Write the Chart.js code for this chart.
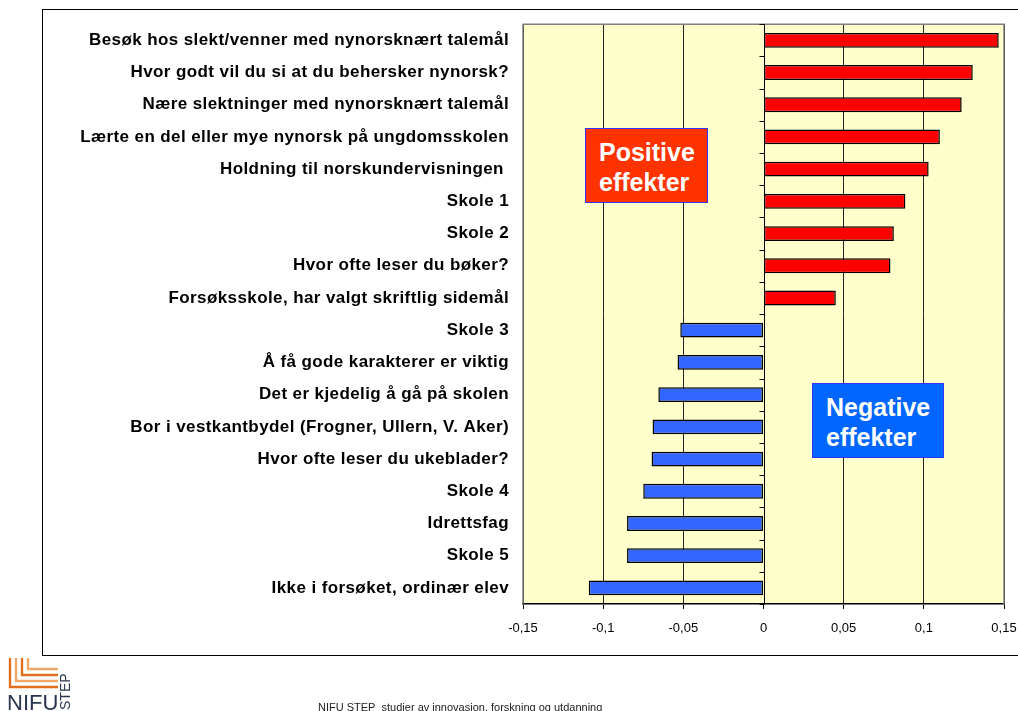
<!DOCTYPE html>
<html>
<head>
<meta charset="utf-8">
<script src="https://cdn.jsdelivr.net/npm/chart.js@4/dist/chart.umd.min.js"></script>
<style>
  html, body { margin: 0; padding: 0; background: #fff; }
  body { width: 1018px; height: 711px; position: relative; overflow: hidden; font-family: "Liberation Sans", Arial, sans-serif; }
  #frame { position: absolute; left: 42px; top: 9px; width: 1000px; height: 647px; border: 1.5px solid #000; box-sizing: border-box; }
  #wrap { position: absolute; left: 0; top: 0; width: 1018px; height: 711px; }
  .note { position: absolute; color: #fff; font-weight: bold; font-size: 25px; line-height: 30px; box-sizing: border-box; border: 1.5px solid #3333ff; padding: 8px 0 0 13px; }
  #pos { left: 585px; top: 128px; width: 123px; height: 75px; background: #ff3300; }
  #neg { left: 812px; top: 383px; width: 132px; height: 75px; background: #0066ff; }
  #footer { position: absolute; left: 318px; top: 701px; font-size: 11px; color: #222; white-space: nowrap; }
  #logo { position: absolute; left: 6px; top: 657px; }
</style>
</head>
<body>
<div id="frame"></div>
<div id="wrap"><canvas id="effectChart" width="1018" height="711"></canvas></div>
<div class="note" id="pos">Positive<br>effekter</div>
<div class="note" id="neg">Negative<br>effekter</div>
<svg id="logo" width="66" height="54" viewBox="0 0 66 54">
  <g fill="none" stroke-width="2.4">
    <path d="M4 1 V30 H52" stroke="#e07020"/>
    <path d="M10 1 V24 H52" stroke="#f0a868"/>
    <path d="M16 1 V18 H52" stroke="#e07020"/>
    <path d="M22 1 V12 H52" stroke="#f0a868"/>
  </g>
  <text x="1" y="53" font-family="Liberation Sans, Arial" font-size="22" fill="#2a3550">NIFU</text>
  <text x="0" y="0" font-family="Liberation Sans, Arial" font-size="14" fill="#2a3550" transform="translate(64 53) rotate(-90)">STEP</text>
</svg>
<div id="footer">NIFU STEP&nbsp; studier av innovasjon, forskning og utdanning</div>
<script>
// Chart data
const categories = [
  'Besøk hos slekt/venner med nynorsknært talemål',
  'Hvor godt vil du si at du behersker nynorsk?',
  'Nære slektninger med nynorsknært talemål',
  'Lærte en del eller mye nynorsk på ungdomsskolen',
  'Holdning til norskundervisningen ',
  'Skole 1',
  'Skole 2',
  'Hvor ofte leser du bøker?',
  'Forsøksskole, har valgt skriftlig sidemål',
  'Skole 3',
  'Å få gode karakterer er viktig',
  'Det er kjedelig å gå på skolen',
  'Bor i vestkantbydel (Frogner, Ullern, V. Aker)',
  'Hvor ofte leser du ukeblader?',
  'Skole 4',
  'Idrettsfag',
  'Skole 5',
  'Ikke i forsøket, ordinær elev'
];
const effects = [0.1467, 0.1305, 0.1236, 0.110, 0.103, 0.0885, 0.0813, 0.0792, 0.0451,
  -0.0519, -0.0536, -0.0656, -0.0692, -0.0698, -0.075, -0.0851, -0.0851, -0.109];
const xTicks = [-0.15, -0.1, -0.05, 0, 0.05, 0.1, 0.15];

// Plot background, frame and the zero line with its small ticks
const plotDecor = {
  id: 'plotDecor',
  beforeDraw(chart) {
    const { ctx, chartArea: a } = chart;
    ctx.letterSpacing = '0px';
    ctx.save();
    ctx.fillStyle = '#ffffcc';
    ctx.fillRect(a.left, a.top, a.right - a.left, a.bottom - a.top);
    ctx.restore();
  },
  afterDatasetsDraw(chart) {
    const { ctx, chartArea: a, scales } = chart;
    const x0 = Math.round(scales.x.getPixelForValue(0)) + 0.5;
    ctx.save();
    ctx.strokeStyle = '#808080';
    ctx.lineWidth = 1.5;
    ctx.beginPath();
    ctx.moveTo(a.left, a.bottom);
    ctx.lineTo(a.left, a.top);
    ctx.lineTo(a.right, a.top);
    ctx.lineTo(a.right, a.bottom);
    ctx.stroke();
    ctx.strokeStyle = '#000';
    ctx.lineWidth = 1;
    ctx.beginPath();
    ctx.moveTo(x0, a.top);
    ctx.lineTo(x0, a.bottom);
    const n = categories.length;
    for (let i = 0; i <= n; i++) {
      const y = Math.round(a.top + (a.bottom - a.top) * i / n) + 0.5;
      ctx.moveTo(x0 - 5, y);
      ctx.lineTo(x0, y);
    }
    ctx.stroke();
    ctx.restore();
    // category labels (drawn after this, ticks.z = 1) are spaced out a bit
    ctx.letterSpacing = '0.4px';
  },
  afterDraw(chart) {
    chart.ctx.letterSpacing = '0px';
  }
};

new Chart(document.getElementById('effectChart'), {
  type: 'bar',
  data: {
    labels: categories,
    datasets: [{
      data: effects,
      backgroundColor: effects.map(v => v >= 0 ? '#ff0000' : '#3366ff'),
      borderColor: '#000',
      borderWidth: 1.5,
      borderSkipped: false,
      barPercentage: 0.46,
      categoryPercentage: 1
    }]
  },
  options: {
    indexAxis: 'y',
    responsive: false,
    animation: false,
    layout: { padding: { top: 23, right: 14, left: 0, bottom: 0 } },
    plugins: { legend: { display: false }, tooltip: { enabled: false } },
    scales: {
      x: {
        min: -0.15,
        max: 0.15,
        afterBuildTicks(scale) { scale.ticks = xTicks.map(v => ({ value: v })); },
        afterFit(scale) { scale.height = 107; scale.paddingLeft = 0; scale.paddingRight = 0; },
        grid: {
          color: ctx => (ctx.tick && Math.abs(ctx.tick.value) > 0.14) ? '#000' : (ctx.tick && ctx.tick.value === 0 ? 'rgba(0,0,0,0)' : '#222'),
          tickColor: '#000',
          tickLength: 5,
          lineWidth: 1
        },
        border: { color: '#000', width: 1.5 },
        ticks: {
          color: '#000',
          padding: 12,
          font: { family: 'Liberation Sans', size: 13 },
          callback: v => String(v).replace('.', ',')
        }
      },
      y: {
        afterFit(scale) { scale.width = 523; },
        grid: { display: false, drawTicks: false },
        border: { display: false },
        ticks: {
          z: 1,
          color: '#000',
          padding: 14,
          font: { family: 'Liberation Sans', size: 17, weight: 'bold' }
        }
      }
    }
  },
  plugins: [plotDecor]
});
</script>
</body>
</html>
